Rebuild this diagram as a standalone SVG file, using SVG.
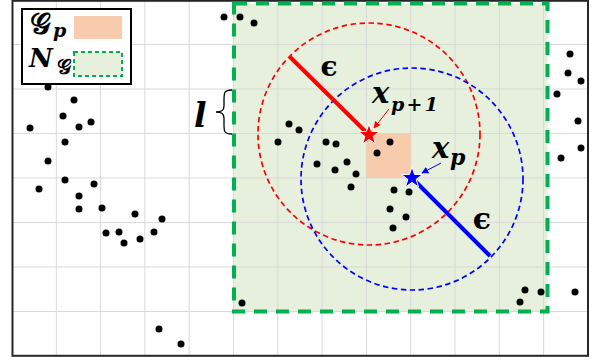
<svg xmlns="http://www.w3.org/2000/svg" width="592" height="360" viewBox="0 0 592 360">
<defs>
<style>
.grid{stroke:#d9d9d9;stroke-width:1;fill:none}
.dot{fill:#000}
.math{font-family:"DejaVu Serif","Liberation Serif",serif;font-weight:bold;font-style:italic;fill:#000}
.scr{font-family:"DejaVu Serif","DejaVu Sans","Noto Sans",serif;font-weight:bold;fill:#000}
.eps{font-family:"DejaVu Serif",serif;font-weight:bold;fill:#000;text-anchor:middle}
.dcircle{fill:none;stroke-width:1.7;stroke-dasharray:5.5 3.5}
</style>
<marker id="ahRed" viewBox="0 0 10 10" refX="9" refY="5" markerWidth="7" markerHeight="7" orient="auto" markerUnits="userSpaceOnUse">
<path d="M0,0 L10,5 L0,10 Z" fill="#ff0000"/>
</marker>
<marker id="ahBlue" viewBox="0 0 10 10" refX="9" refY="5" markerWidth="7" markerHeight="7" orient="auto" markerUnits="userSpaceOnUse">
<path d="M0,0 L10,5 L0,10 Z" fill="#0000ff"/>
</marker>
<path id="star" d="M0,-11 L2.59,-3.56 L10.46,-3.40 L4.18,1.36 L6.47,8.90 L0,4.4 L-6.47,8.90 L-4.18,1.36 L-10.46,-3.40 L-2.59,-3.56 Z"/>
</defs>
<rect x="0" y="0" width="592" height="360" fill="#fff"/>
<g id="neighborhood-fill">
<rect x="234" y="3.5" width="313.5" height="308" fill="#e6f0dc"/>
</g>
<g id="grid">
<path class="grid" d="M56.3,0V356 M100.6,0V356 M144.9,0V356 M189.2,0V356 M233.5,0V356 M277.8,0V356 M322.1,0V356 M366.4,0V356 M410.7,0V356 M455,0V356 M499.3,0V356 M543.6,0V356 M12,44.5H588 M12,89H588 M12,133.5H588 M12,178H588 M12,222.5H588 M12,267H588 M12,311.5H588"/>
</g>
<g id="frame">
<rect x="12.5" y="0.8" width="575.5" height="355" fill="none" stroke="#262626" stroke-width="2"/>
</g>
<g id="Gp">
<rect x="366.4" y="133.5" width="44.3" height="44.5" fill="#f8cbad"/>
</g>
<g id="NG">
<rect x="234" y="3.5" width="313.5" height="308" fill="none" stroke="#00b050" stroke-width="4" stroke-dasharray="13 9"/>
</g>
<g id="points">
<circle class="dot" cx="30" cy="128" r="3.5"/>
<circle class="dot" cx="48" cy="87" r="3.5"/>
<circle class="dot" cx="63" cy="116" r="3.5"/>
<circle class="dot" cx="74" cy="100" r="3.5"/>
<circle class="dot" cx="79" cy="127" r="3.5"/>
<circle class="dot" cx="91" cy="122" r="3.5"/>
<circle class="dot" cx="65" cy="142" r="3.5"/>
<circle class="dot" cx="48" cy="161" r="3.5"/>
<circle class="dot" cx="65" cy="180" r="3.5"/>
<circle class="dot" cx="39" cy="189" r="3.5"/>
<circle class="dot" cx="94" cy="184" r="3.5"/>
<circle class="dot" cx="79" cy="196" r="3.5"/>
<circle class="dot" cx="79" cy="209" r="3.5"/>
<circle class="dot" cx="102" cy="208" r="3.5"/>
<circle class="dot" cx="135" cy="214" r="3.5"/>
<circle class="dot" cx="162" cy="219" r="3.5"/>
<circle class="dot" cx="106" cy="233" r="3.5"/>
<circle class="dot" cx="119" cy="232" r="3.5"/>
<circle class="dot" cx="124" cy="243" r="3.5"/>
<circle class="dot" cx="140" cy="239" r="3.5"/>
<circle class="dot" cx="154" cy="232" r="3.5"/>
<circle class="dot" cx="159" cy="329" r="3.5"/>
<circle class="dot" cx="181" cy="344" r="3.5"/>
<circle class="dot" cx="224" cy="17" r="3.5"/>
<circle class="dot" cx="240" cy="17" r="3.5"/>
<circle class="dot" cx="254" cy="23" r="3.5"/>
<circle class="dot" cx="289" cy="124" r="3.5"/>
<circle class="dot" cx="299" cy="130" r="3.5"/>
<circle class="dot" cx="278" cy="142" r="3.5"/>
<circle class="dot" cx="326" cy="142" r="3.5"/>
<circle class="dot" cx="336" cy="144" r="3.5"/>
<circle class="dot" cx="317" cy="164" r="3.5"/>
<circle class="dot" cx="335" cy="170" r="3.5"/>
<circle class="dot" cx="347" cy="162" r="3.5"/>
<circle class="dot" cx="356" cy="174" r="3.5"/>
<circle class="dot" cx="351" cy="187" r="3.5"/>
<circle class="dot" cx="390" cy="142" r="3.5"/>
<circle class="dot" cx="377" cy="153" r="3.5"/>
<circle class="dot" cx="394" cy="190" r="3.5"/>
<circle class="dot" cx="409" cy="192" r="3.5"/>
<circle class="dot" cx="390" cy="209" r="3.5"/>
<circle class="dot" cx="406" cy="217" r="3.5"/>
<circle class="dot" cx="393" cy="228" r="3.5"/>
<circle class="dot" cx="242" cy="303" r="3.5"/>
<circle class="dot" cx="570" cy="54" r="3.5"/>
<circle class="dot" cx="568" cy="73" r="3.5"/>
<circle class="dot" cx="581" cy="81" r="3.5"/>
<circle class="dot" cx="557" cy="94" r="3.5"/>
<circle class="dot" cx="578" cy="121" r="3.5"/>
<circle class="dot" cx="581" cy="148" r="3.5"/>
<circle class="dot" cx="561" cy="158" r="3.5"/>
<circle class="dot" cx="525" cy="290" r="3.5"/>
<circle class="dot" cx="520" cy="302" r="3.5"/>
<circle class="dot" cx="541" cy="292" r="3.5"/>
<circle class="dot" cx="575" cy="292" r="3.5"/>
</g>
<g id="connectors">
<circle class="dcircle" cx="369" cy="134" r="111" stroke="#ff0000"/>
<circle class="dcircle" cx="412" cy="179" r="111" stroke="#0000ff"/>
<line x1="369" y1="135" x2="290" y2="57" stroke="#ff0000" stroke-width="4"/>
<line x1="412" y1="178" x2="490" y2="256" stroke="#0000ff" stroke-width="4"/>
<line x1="389" y1="109" x2="374" y2="128" stroke="#ff0000" stroke-width="1" marker-end="url(#ahRed)"/>
<line x1="441" y1="163" x2="422" y2="173" stroke="#0000ff" stroke-width="1" marker-end="url(#ahBlue)"/>
</g>
<g id="star-xp1">
<use href="#star" x="369" y="135" fill="#ff0000" stroke="#fff" stroke-width="1"/>
</g>
<g id="star-xp">
<use href="#star" x="412" y="178" fill="#0000ff" stroke="#fff" stroke-width="1"/>
</g>
<g id="labels">
<text class="eps" x="329" y="76" font-size="28">ϵ</text>
<text class="eps" x="482" y="229" font-size="30">ϵ</text>
<text class="math" x="372" y="103" font-size="29">x</text>
<text class="math" x="391" y="111" font-size="19" textLength="47" lengthAdjust="spacing">p+1</text>
<text class="math" x="432" y="158" font-size="29">x</text>
<text class="math" x="450" y="165" font-size="22">p</text>
<text class="math" x="194" y="127" font-size="33">l</text>
<path d="M232,90 C224,90 224,93 224,100 L224,106 C224,111 221,112 216,112 C221,112 224,113 224,118 L224,125 C224,131 224,134 232,134" fill="none" stroke="#000" stroke-width="1.3"/>
</g>
<g id="legend">
<rect x="22" y="9" width="109" height="75" fill="#fff" stroke="#000" stroke-width="2"/>
<text class="scr" x="30" y="34" font-size="29">𝒢</text>
<text class="math" x="53" y="37" font-size="19">p</text>
<rect x="74" y="16" width="48" height="23" fill="#f8cbad"/>
<text class="math" x="29" y="67" font-size="26">N</text>
<text class="scr" x="57" y="74" font-size="20">𝒢</text>
<rect x="74" y="52" width="48" height="24" fill="#e6f0dc" stroke="#00b050" stroke-width="2" stroke-dasharray="4 3"/>
</g>
</svg>
